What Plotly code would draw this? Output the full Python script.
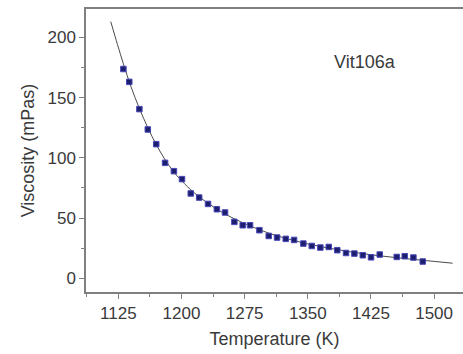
import plotly.graph_objects as go

# Measured data points
temp_K = [1131, 1138, 1150, 1160, 1170, 1180.5, 1191, 1200.6, 1211, 1221, 1231.5, 1242,
          1251.7, 1262.8, 1272.7, 1281.4, 1292.5, 1303.6, 1313.5, 1323.8, 1333.7, 1344.7,
          1354.7, 1364.9, 1374.9, 1385, 1395.4, 1405.3, 1415.3, 1425.1, 1435.4, 1455.6,
          1465.1, 1475.4, 1486.5]
viscosity = [173.7, 163, 140.4, 123.5, 111.3, 95.8, 88.9, 82.3, 70.4, 67, 61.7, 57.3,
             54.6, 46.8, 44, 44, 39.9, 35.1, 33.8, 32.7, 31.8, 28.8,
             26.8, 25.5, 26, 23.3, 21, 20.5, 19.1, 17.4, 19.7, 17.7,
             18.3, 17.2, 13.9]

# Fit curve
fit_T = [1116, 1124, 1131, 1140, 1150, 1160, 1170, 1180, 1190, 1200, 1215, 1230, 1250,
         1270, 1290, 1310, 1330, 1350, 1375, 1400, 1425, 1450, 1475, 1500, 1522]
fit_eta = [213, 194, 178, 159, 141, 125, 111, 99, 89, 81, 71, 63, 54,
           47, 41, 36, 32, 28.5, 25, 22, 19.5, 17.5, 15.7, 14, 12.5]

label_text = "Vit106a"
label_pos = (1418, 179.5)

font_family = "Arial, Liberation Sans, sans-serif"
text_color = "#3a3a3a"
axis_color = "#808080"

fig = go.Figure()
fig.add_trace(go.Scatter(
    x=fit_T, y=fit_eta, mode="lines",
    line=dict(color="#4a4a4a", width=1, shape="spline"),
    showlegend=False, hoverinfo="skip"))
fig.add_trace(go.Scatter(
    x=temp_K, y=viscosity, mode="markers",
    marker=dict(symbol="square", size=5.5, color="#1e1e6e",
                line=dict(color="#4848b8", width=1)),
    showlegend=False))

fig.add_annotation(x=label_pos[0], y=label_pos[1], text=label_text, showarrow=False,
                   font=dict(family=font_family, size=18, color=text_color),
                   xanchor="center", yanchor="middle")

fig.update_layout(
    width=463, height=354,
    margin=dict(l=86, r=0, t=9, b=62),
    paper_bgcolor="white", plot_bgcolor="white",
    font=dict(family=font_family, size=17, color=text_color),
    xaxis=dict(
        range=[1086.6, 1534.3], tickmode="linear", tick0=1125, dtick=75,
        showgrid=False, zeroline=False,
        showline=True, linecolor=axis_color, linewidth=1.5, mirror=True,
        ticks="outside", ticklen=5, tickcolor=axis_color, tickwidth=1,
        minor=dict(tick0=1125, dtick=37.5, ticks="outside", ticklen=3,
                   tickcolor=axis_color, showgrid=False),
        tickfont=dict(size=17, color=text_color),
        title=dict(text="Temperature (K)", font=dict(size=18, color=text_color), standoff=10),
    ),
    yaxis=dict(
        range=[-11.4, 223.5], tickmode="linear", tick0=0, dtick=50,
        showgrid=False, zeroline=False,
        showline=True, linecolor=axis_color, linewidth=1.5, mirror=False,
        ticks="outside", ticklen=5, tickcolor=axis_color, tickwidth=1,
        minor=dict(tick0=0, dtick=25, ticks="outside", ticklen=3,
                   tickcolor=axis_color, showgrid=False),
        tickfont=dict(size=17, color=text_color),
        title=dict(text="Viscosity (mPas)", font=dict(size=18, color=text_color), standoff=8),
    ),
)

fig.write_html("out.html")
